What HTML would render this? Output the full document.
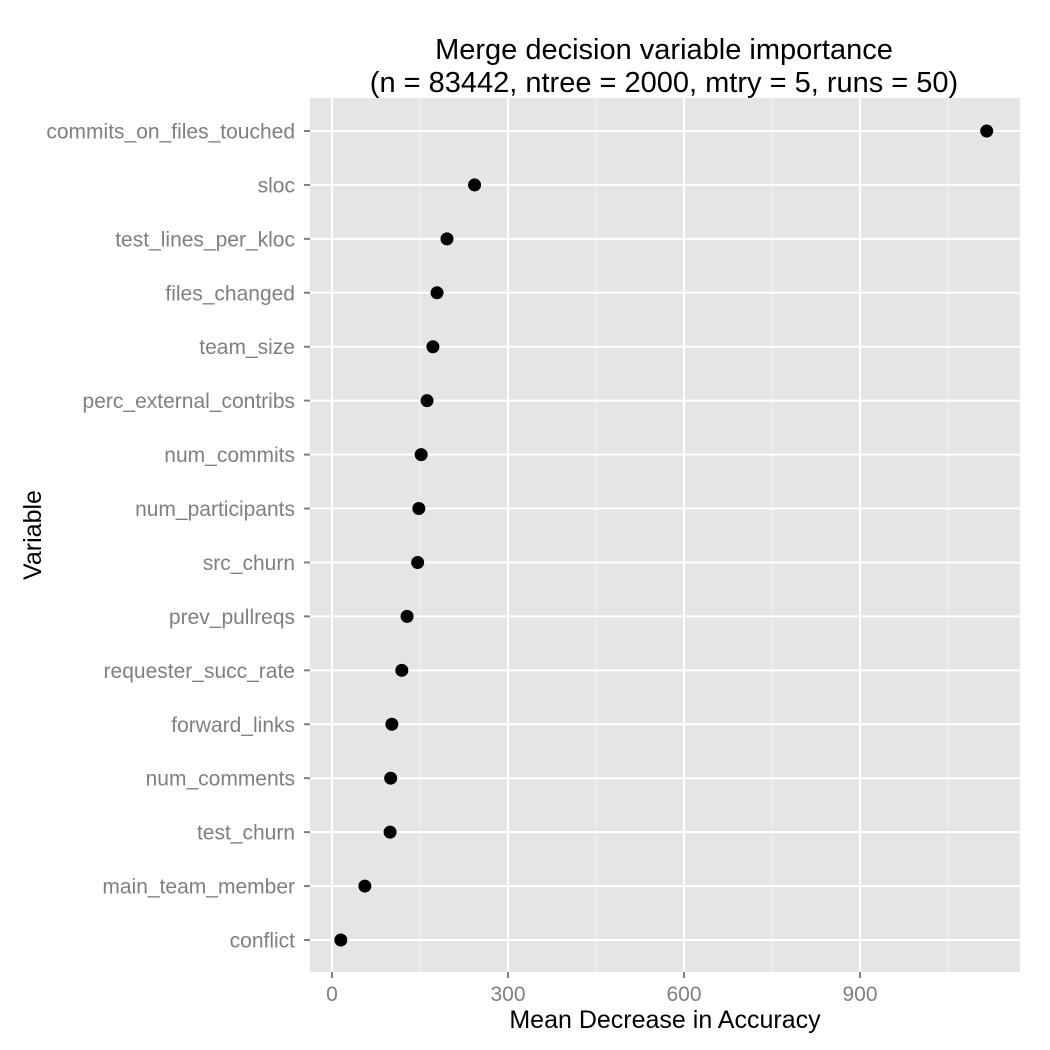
<!DOCTYPE html>
<html><head><meta charset="utf-8"><style>
body{margin:0;background:#fff}
svg{display:block;font-family:"Liberation Sans",Arial,sans-serif}
</style></head><body>
<svg id="chart" width="1050" height="1050" xmlns="http://www.w3.org/2000/svg">
<rect width="1050" height="1050" fill="#fff"/>
<text x="664" y="59" font-size="29" text-anchor="middle" fill="#000">Merge decision variable importance</text>
<text x="664" y="92" font-size="29" text-anchor="middle" fill="#000">(n = 83442, ntree = 2000, mtry = 5, runs = 50)</text>
<rect x="310" y="98" width="710" height="874" fill="#e5e5e5"/>
<g id="grid"></g><g id="axes"></g><g id="points"></g>
<text x="665" y="1028" font-size="25" text-anchor="middle" fill="#000">Mean Decrease in Accuracy</text>
<text transform="translate(41,535) rotate(-90)" font-size="25" text-anchor="middle" fill="#000">Variable</text>
</svg>
<script>
const categories=["commits_on_files_touched","sloc","test_lines_per_kloc","files_changed","team_size","perc_external_contribs","num_commits","num_participants","src_churn","prev_pullreqs","requester_succ_rate","forward_links","num_comments","test_churn","main_team_member","conflict"];
const values=[1116,243,196,179,172,162,152,148,146,128,119,102,100,99,56,15];
const xTicks=[0,300,600,900];
const xMinor=[150,450,750,1050];
const NS="http://www.w3.org/2000/svg";
const x=v=>332+v*(176/300);
const y=i=>131+i*(809/15);
function mk(t,a,p){const e=document.createElementNS(NS,t);for(const k in a)e.setAttribute(k,a[k]);p.appendChild(e);return e;}
const grid=document.getElementById('grid'),axes=document.getElementById('axes'),pts=document.getElementById('points');
xMinor.forEach(v=>{if(x(v)<1020){const l=mk('line',{x1:x(v),x2:x(v),y1:98,y2:972,stroke:'#f2f2f2','stroke-width':1},grid);

}});
xTicks.forEach(v=>{const l=mk('line',{x1:x(v),x2:x(v),y1:98,y2:972,stroke:'#fff','stroke-width':2},grid);


const tk=mk('line',{x1:x(v),x2:x(v),y1:972,y2:978,stroke:'#7f7f7f','stroke-width':2},axes);


const t=mk('text',{x:x(v),y:1001,'font-size':21,'text-anchor':'middle',fill:'#7f7f7f'},axes);t.textContent=v;

});
categories.forEach((c,i)=>{const l=mk('line',{x1:310,x2:1020,y1:y(i),y2:y(i),stroke:'#fff','stroke-width':2},grid);


const tk=mk('line',{x1:304,x2:310,y1:y(i),y2:y(i),stroke:'#7f7f7f','stroke-width':2},axes);


const t=mk('text',{x:295,y:y(i)+7.5,'font-size':21,'text-anchor':'end',fill:'#7f7f7f'},axes);t.textContent=c;


const p=mk('circle',{cx:x(values[i]),cy:y(i),r:6.5,fill:'#000'},pts);

});
</script>
</body></html>
